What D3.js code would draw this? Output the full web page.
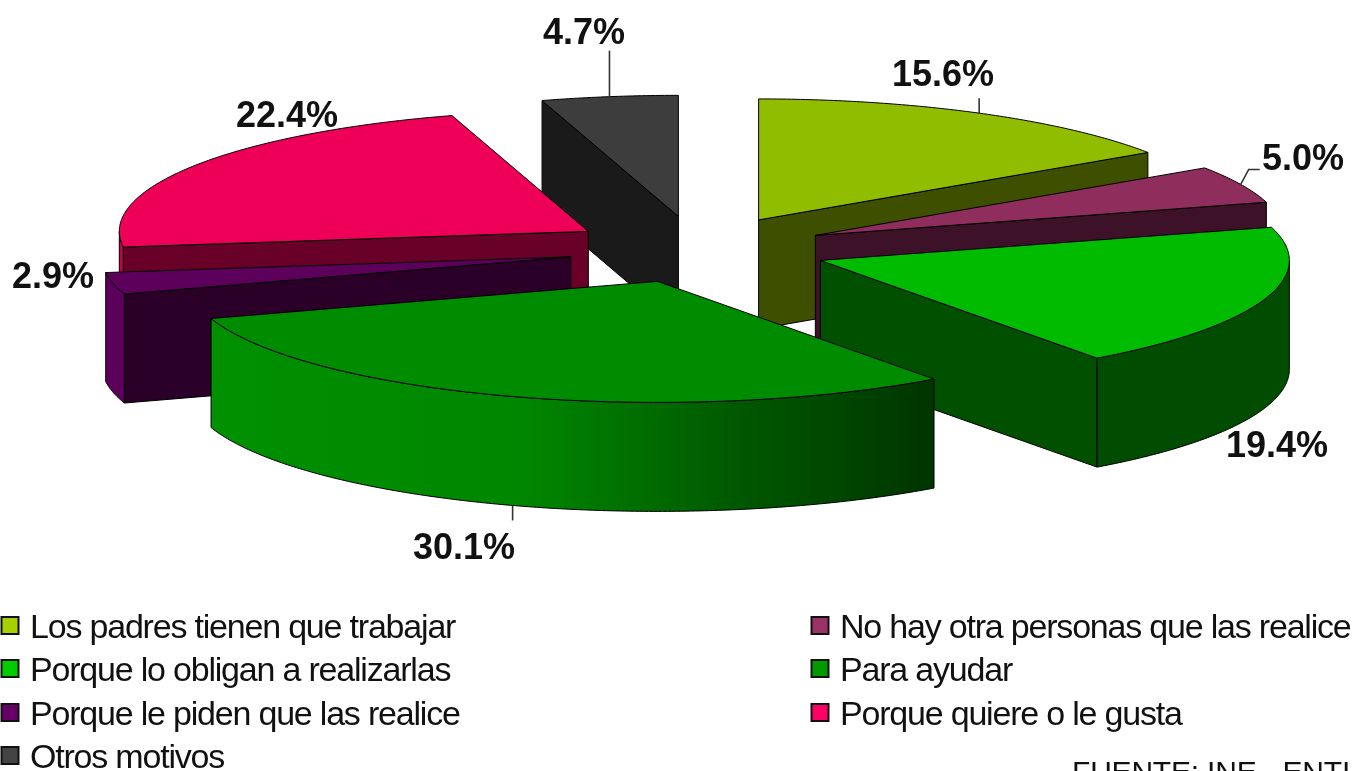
<!DOCTYPE html>
<html lang="es">
<head>
<meta charset="utf-8">
<title>Motivos</title>
<script src="https://cdn.jsdelivr.net/npm/d3@7"></script>
<style>
html,body{margin:0;padding:0;background:#fff;overflow:hidden}
svg{display:block;filter:blur(0.55px)}
text{font-family:"Liberation Sans",Arial,sans-serif;fill:#111}
</style>
</head>
<body>
<svg id="chart" width="1352" height="771"></svg>
<script>
// --- data ---
const categories = ["Los padres tienen que trabajar","No hay otra personas que las realice","Porque lo obligan a realizarlas","Para ayudar","Porque le piden que las realice","Porque quiere o le gusta","Otros motivos"];
const values = [15.6,5.0,19.4,30.1,2.9,22.4,4.7];
const valueLabels = ["15.6%","5.0%","19.4%","30.1%","2.9%","22.4%","4.7%"];
const sourceText = "FUENTE: INE - ENTI";

// --- styles ---
const topColors  = ["#90bd00","#8f2d5c","#00bb00","#008c00","#5c005c","#ee0058","#3d3d3d"];
const faceColors = ["#3f4f00","#3d1228","#005000","#004a00","#2a0028","#680028","#1a1a1a"];
const wallColors = ["#5a7300","#5c1b3a","#004c00","url(#wall4)","#5c005c","#c4004a","#262626"];
const legendColors = ["#a6d000","#993366","#00cc00","#009900","#660066","#ff0066","#444444"];

// --- layout ---
const cx = 697.5, cy = 249.5, rx = 469, ry = 121, depth = 109, explode = 0.277;
const drawOrder = [6,0,1,5,4,2,3];
const labelPos = [[943,86],[1303,170],[1277,457],[464,559],[53,288],[287,127],[584,44]];
const leaderEnd = [[0,-15],[19,-15],null,[0,15],null,null,[0,-46]]; // relative to the slice's outer midpoint
const legendCols = [{x:1.5,tx:30},{x:811.5,tx:840}];
const legendRowY = [626,669,713,756];
const legendLayout = [[0,0],[1,0],[0,1],[1,1],[0,2],[1,2],[0,3]];

const svg = d3.select("#chart");
const x = d3.scaleLinear().domain([-1,1]).range([cx-rx,cx+rx]);
const y = d3.scaleLinear().domain([-1,1]).range([cy-ry,cy+ry]);
const arcs = d3.pie().sort(null).value(d=>d)(values);
const line = d3.line();

const grad = svg.append("defs").append("linearGradient").attr("id","wall4")
  .attr("gradientUnits","userSpaceOnUse").attr("x1",x(-1)).attr("x2",cx+240).attr("y1",0).attr("y2",0);
[[0,"#009000"],[0.42,"#008600"],[0.72,"#005800"],[1,"#003400"]].forEach(s=>grad.append("stop").attr("offset",s[0]).attr("stop-color",s[1]));

function pt(s,a,r,z){
  const m=(s.startAngle+s.endAngle)/2;
  return [x(explode*Math.sin(m)+r*Math.sin(a)), y(-(explode*Math.cos(m)+r*Math.cos(a)))+z];
}
function arcPts(s,a0,a1,z){
  const n=Math.max(2,Math.ceil((a1-a0)/0.01));
  return d3.range(n+1).map(i=>pt(s,a0+(a1-a0)*i/n,1,z));
}
function draw(d,fill){
  svg.append("path").attr("d",d).attr("fill",fill).attr("stroke","#000").attr("stroke-width",1).attr("stroke-linejoin","round");
}
const HALF=Math.PI/2;
drawOrder.forEach(i=>{
  const s=arcs[i];
  // radial faces that look towards the viewer
  const edges=[];
  if(Math.sin(s.startAngle)<0) edges.push(s.startAngle);
  if(Math.sin(s.endAngle)>0) edges.push(s.endAngle);
  edges.forEach(a=>{
    draw(line([pt(s,a,0,0),pt(s,a,1,0),pt(s,a,1,depth),pt(s,a,0,depth)])+"Z",faceColors[i]);
  });
  // outer wall
  const a0=Math.max(s.startAngle,HALF), a1=Math.min(s.endAngle,3*HALF);
  if(a1>a0){
    draw(line(arcPts(s,a0,a1,0).concat(arcPts(s,a0,a1,depth).reverse()))+"Z",wallColors[i]);
  }
  // top
  draw(line([pt(s,0,0,0)].concat(arcPts(s,s.startAngle,s.endAngle,0)))+"Z",topColors[i]);
});

// leaders
arcs.forEach((s,i)=>{
  if(!leaderEnd[i]) return;
  const m=(s.startAngle+s.endAngle)/2;
  const front=Math.cos(m)<0;
  const p=pt(s,m,1,front?depth:0);
  const e=leaderEnd[i];
  const pts = (i===1) ? [p,[p[0]+8,p[1]+e[1]],[p[0]+e[0],p[1]+e[1]]] : [p,[p[0]+e[0],p[1]+e[1]]];
  svg.append("path").attr("d",line(pts)).attr("fill","none").attr("stroke","#333").attr("stroke-width",1.6);
});

// value labels
svg.selectAll("text.val").data(valueLabels).join("text").attr("class","val")
  .attr("x",(d,i)=>labelPos[i][0]).attr("y",(d,i)=>labelPos[i][1])
  .attr("text-anchor","middle").attr("font-size",36).attr("font-weight","bold").text(d=>d);

// legend
categories.forEach((c,i)=>{
  const [col,row]=legendLayout[i], L=legendCols[col], yy=legendRowY[row];
  svg.append("rect").attr("x",L.x).attr("y",yy-9).attr("width",17).attr("height",17)
    .attr("fill",legendColors[i]).attr("stroke","#111").attr("stroke-width",2);
  svg.append("text").attr("x",L.tx).attr("y",yy+12).attr("font-size",34).attr("letter-spacing",-1.2).text(c);
});

// source
svg.append("text").attr("x",1072).attr("y",782).attr("font-size",30).attr("letter-spacing",-0.2).text(sourceText);
</script>
</body>
</html>
